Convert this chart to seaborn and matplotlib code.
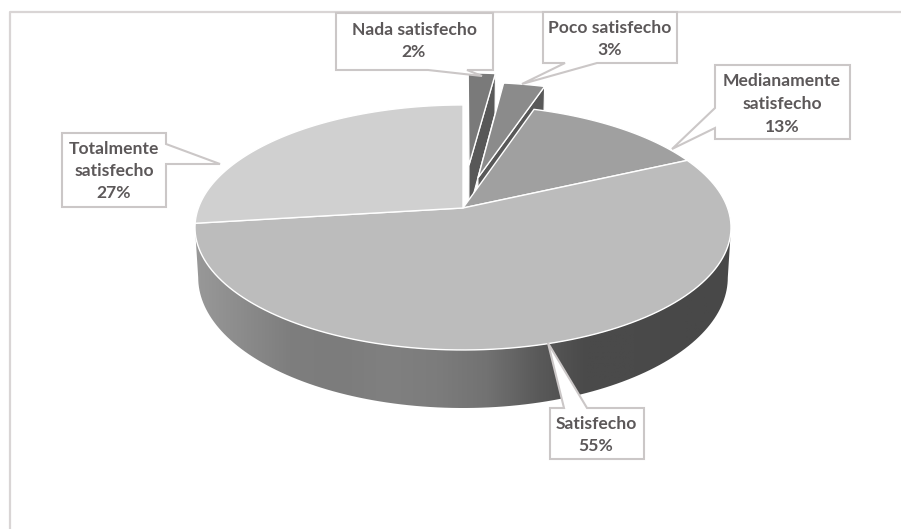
import numpy as np
import matplotlib
matplotlib.use("Agg")
import matplotlib.pyplot as plt
import seaborn as sns
from matplotlib.patches import Polygon

# data
categorias = ["Nada\u00a0satisfecho", "Poco satisfecho", "Medianamente\nsatisfecho", "Satisfecho", "Totalmente\nsatisfecho"]
porcentajes = [2, 3, 13, 55, 27]
separacion = [0.38, 0.27, 0, 0, 0]
grises = ["#7a7a7a", "#8b8b8b", "#a0a0a0", "#bcbcbc", "#d0d0d0"]
grises_lado = ["#9a9a9a", "#8c8c8c", "#7e7e7e", "#7c7c7c", "#808080", "#7c7c7c", "#727272",
               "#5a5a5a", "#4a4a4a", "#4a4a4a", "#484848", "#484848"]

sns.set_theme(style="white")
plt.rcParams["font.family"] = ["Lato", "DejaVu Sans"]

# perspective of the tilted pie, result in image pixels
CX, CY = 463, 208
A, B, K, PROF = 264.6, 119.4, 0.159, 48.8


def proyectar(x, y, z=0):
    w = 1 + K * y
    # the lower face is a bit narrower
    return np.column_stack([CX + A * x / w * (1 - 0.012 * z), CY - (B * y - PROF * z) / w])


def borde(t1, t2, cx=0, cy=0, z=0):
    t = np.radians(np.linspace(t1, t2, 120))
    return proyectar(cx + np.cos(t), cy + np.sin(t), z)


fig = plt.figure(figsize=(9.01, 5.29), dpi=100)
ax = fig.add_axes([0, 0, 1, 1])

# real pie gives the angles, then it is redrawn in perspective
wedges, _ = ax.pie(porcentajes, explode=separacion, startangle=90, counterclock=False, radius=1)
ax.set_aspect("auto")

# side of the main body with gradient, from one tangent point of the rim to the other
tan = np.degrees(np.arcsin(K))
lado = np.vstack([borde(180 + tan, 360 - tan), borde(180 + tan, 360 - tan, z=1)[::-1]])
cmap = sns.blend_palette(grises_lado, as_cmap=True)
img = ax.imshow(np.linspace(0, 1, 256)[None, :], cmap=cmap, extent=[190, 735, 440, 200], aspect="auto", zorder=2)
img.set_clip_path(Polygon(lado, transform=ax.transData))

# exploded slices go behind the body
for i, w in enumerate(wedges):
    w.set_visible(False)
    t1, t2 = w.theta1, w.theta2
    cx, cy = w.center
    cara = np.vstack([proyectar(np.array([cx]), np.array([cy])), borde(t1, t2, cx, cy)])
    if separacion[i] > 0:
        # t1 is the clockwise end, its inner wall can be seen
        r = np.radians(t1)
        xr = np.array([cx, cx + np.cos(r)])
        yr = np.array([cy, cy + np.sin(r)])
        pared = np.vstack([proyectar(xr, yr), proyectar(xr, yr, 1)[::-1]])
        ax.add_patch(Polygon(pared, fc="#585858", ec="white", lw=0.8, zorder=1 + i * 0.1))
        ax.add_patch(Polygon(cara, fc=grises[i], ec="white", lw=1, zorder=1.05 + i * 0.1))
    else:
        ax.add_patch(Polygon(cara, fc=grises[i], ec="white", lw=1, zorder=3))

# callouts, same order as categorias
cajas = [
    [(336, 13), (493, 13), (493, 70), (467, 70), (482, 76), (428, 70), (336, 70)],
    [(543, 12), (677, 12), (677, 63), (597, 63), (522, 84), (565, 63), (543, 63)],
    [(715, 65), (850, 65), (850, 139), (715, 139), (715, 128), (672, 149), (715, 108)],
    [(550, 408), (564, 408), (548, 343), (587, 408), (644, 408), (644, 459), (550, 459)],
    [(62, 133), (166, 133), (166, 144), (220, 164), (166, 164), (166, 207), (62, 207)],
]
centros = [(414, 41), (610, 39), (782, 104), (596, 435), (114, 171)]
for caja, (tx, ty), cat, p in zip(cajas, centros, categorias, porcentajes):
    ax.add_patch(Polygon(caja, fc="white", ec="#cbc7c7", lw=1.5, zorder=5))
    ax.text(tx, ty, f"{cat}\n{p}%", ha="center", va="center", fontsize=12.6, fontweight="bold",
            color="#5c5859", linespacing=1.5, zorder=6)

# chart frame
ax.plot([10, 10, 901], [529, 12, 12], color="#d9d5d5", lw=1.6, zorder=0.5)

ax.set_xlim(0, 901)
ax.set_ylim(529, 0)
ax.axis("off")
fig.savefig("out.png", dpi=100, facecolor="white")
